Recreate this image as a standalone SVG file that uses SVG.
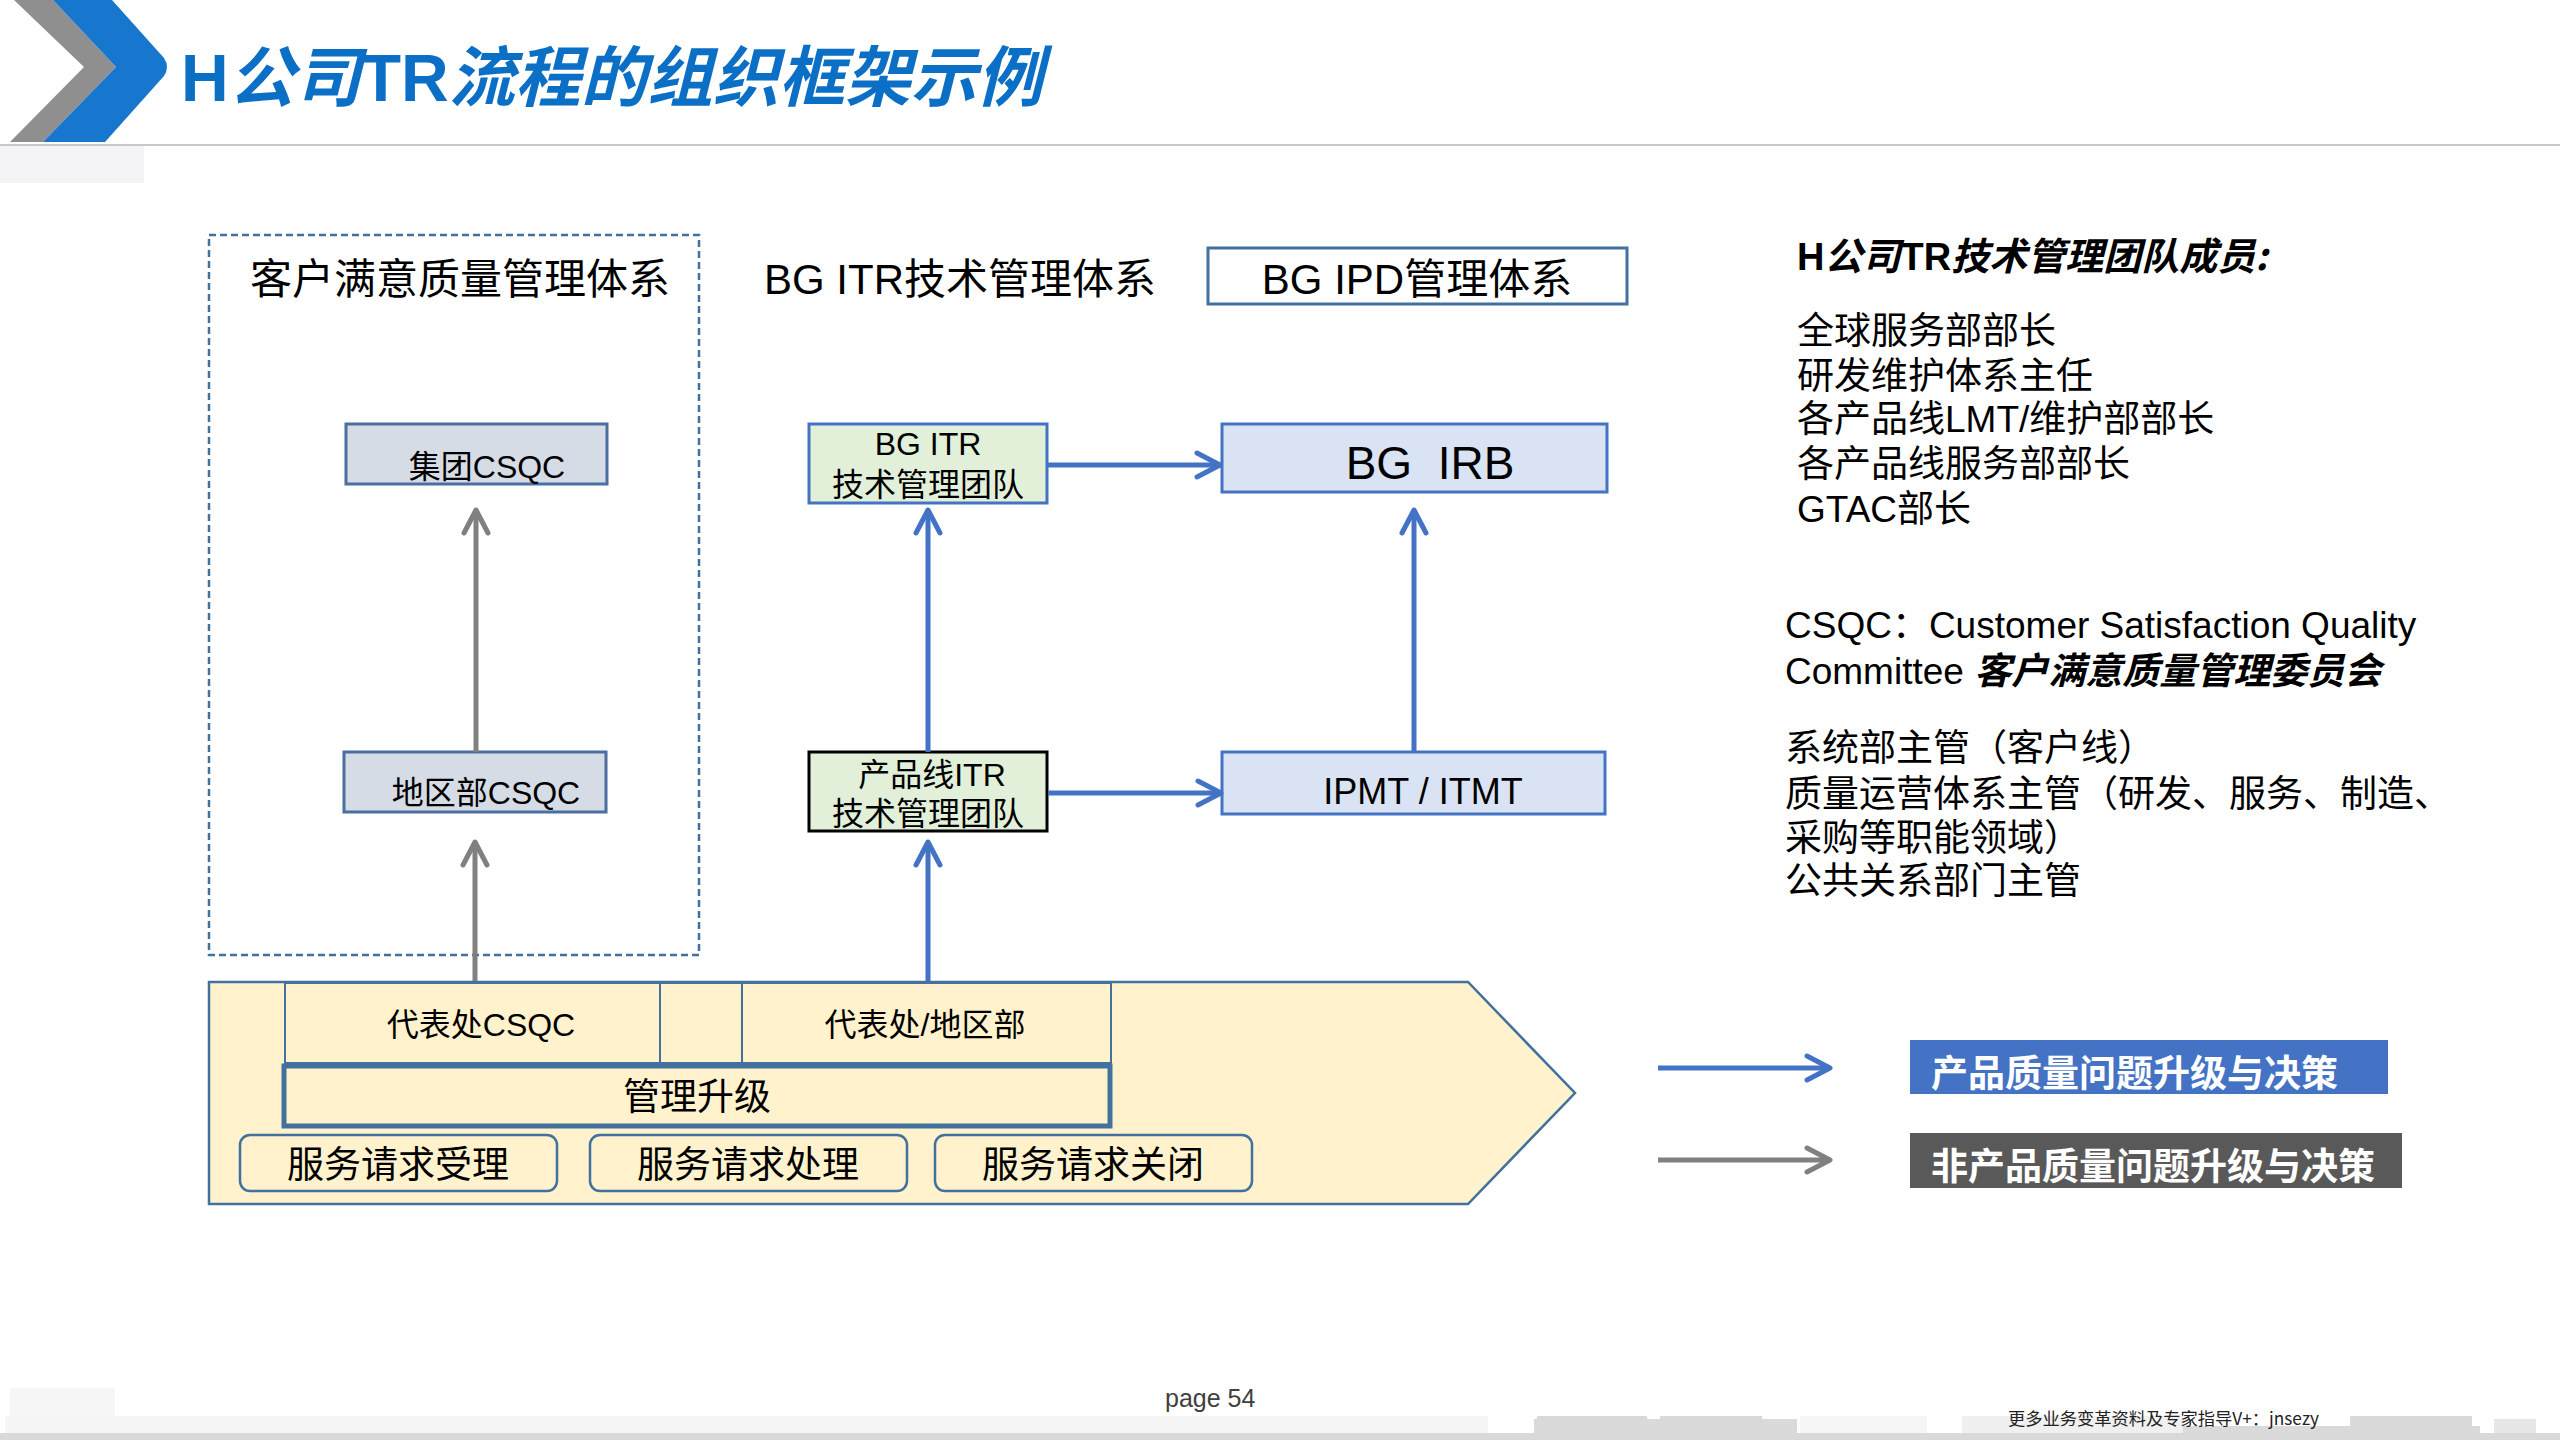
<svg xmlns="http://www.w3.org/2000/svg" width="2560" height="1440" viewBox="0 0 2560 1440">
<style>
text{font-family:"Liberation Sans","Noto Sans CJK SC",sans-serif;fill:#000}
.cj{font-family:"Noto Sans CJK SC","Liberation Sans",sans-serif}
.t42{font-size:42px}
.t32{font-size:32px}
.t37{font-size:37px}
.mid{text-anchor:middle}
.box{stroke-width:3}
.gray{fill:#D6DCE5;stroke:#4A6FA0}
.green{fill:#E2F0D9;stroke:#4472C4}
.lblue{fill:#DAE3F3;stroke:#4472C4}
.thin{fill:none;stroke:#41719C;stroke-width:2}
.rnd{fill:#FFF2CC;stroke:#41719C;stroke-width:2.5}
.ab{stroke:#4472C4;stroke-width:5;fill:none}
.ag{stroke:#808080;stroke-width:5;fill:none}
.it{font-style:italic}
</style>
<defs>
<marker id="hb" viewBox="0 0 30 30" refX="24" refY="15" markerWidth="30" markerHeight="30" markerUnits="userSpaceOnUse" orient="auto">
<path d="M3,3 L26,15 L3,27" fill="none" stroke="#4472C4" stroke-width="5" stroke-linecap="round" stroke-linejoin="round"/>
</marker>
<marker id="hg" viewBox="0 0 30 30" refX="24" refY="15" markerWidth="30" markerHeight="30" markerUnits="userSpaceOnUse" orient="auto">
<path d="M3,3 L26,15 L3,27" fill="none" stroke="#808080" stroke-width="5" stroke-linecap="round" stroke-linejoin="round"/>
</marker>
</defs>
<rect width="2560" height="1440" fill="#FFFFFF"/>

<g id="header">
<polygon points="14,0 53,0 116,67 43,142 10,142 84,67" fill="#8F8F8F"/>
<path d="M53,0 L112,0 L164,58 Q170,67 164,76 L105,142 L43,142 L116,67 Z" fill="#1777CE"/>
<rect x="0" y="146" width="144" height="37" fill="#F3F3F5"/>
<line x1="0" y1="145" x2="2560" y2="145" stroke="#C9C9C9" stroke-width="2"/>
<text x="181" y="101" style="font-size:66px;font-weight:bold;fill:#0B6FC6">H<tspan class="cj it" style="fill:#0B6FC6">公司</tspan>TR<tspan class="cj it" style="fill:#0B6FC6">流程的组织框架示例</tspan></text>
</g>

<g id="csq-system">
<rect x="209" y="235" width="490" height="720" fill="none" stroke="#41719C" stroke-width="2.5" stroke-dasharray="7 4"/>
<text class="t42" x="250" y="294">客户满意质量管理体系</text>
</g>
<text id="itr-system" class="t42" x="764" y="294">BG ITR技术管理体系</text>
<g id="ipd-system">
<rect x="1208" y="248" width="419" height="56" fill="#FFFFFF" stroke="#41719C" stroke-width="3"/>
<text class="t42 mid" x="1417" y="294">BG IPD管理体系</text>
</g>

<g id="group-csqc">
<rect class="box gray" x="346" y="424" width="261" height="60"/>
<text class="t32 mid" x="487" y="478">集团CSQC</text>
</g>
<g id="region-csqc">
<rect class="box gray" x="344" y="752" width="262" height="60"/>
<text class="t32 mid" x="486" y="804">地区部CSQC</text>
</g>
<g id="bg-itr-team">
<rect class="box green" x="809" y="424" width="238" height="79"/>
<text class="t32 mid" x="928" y="455">BG ITR</text>
<text class="t32 mid" x="928" y="496">技术管理团队</text>
</g>
<g id="pl-itr-team">
<rect class="box" x="809" y="752" width="238" height="79" fill="#E2F0D9" stroke="#000000"/>
<text class="t32 mid" x="932" y="786">产品线ITR</text>
<text class="t32 mid" x="928" y="825">技术管理团队</text>
</g>
<g id="bg-irb">
<rect class="box lblue" x="1222" y="424" width="385" height="68"/>
<text class="mid" x="1430" y="479" style="font-size:46px" xml:space="preserve">BG  IRB</text>
</g>
<g id="ipmt-itmt">
<rect class="box lblue" x="1222" y="752" width="383" height="62"/>
<text class="mid" x="1423" y="804" style="font-size:36px">IPMT / ITMT</text>
</g>

<g id="process">
<polygon points="209,982 1468,982 1575,1093 1468,1204 209,1204" fill="#FFF2CC" stroke="#41719C" stroke-width="2.5"/>
<rect class="thin" x="285" y="983" width="375" height="80"/>
<rect class="thin" x="660" y="983" width="82" height="80"/>
<rect class="thin" x="742" y="983" width="369" height="80"/>
<text class="t32 mid" x="481" y="1036">代表处CSQC</text>
<text class="t32 mid" x="925" y="1036">代表处/地区部</text>
<rect x="284" y="1066" width="826" height="60" fill="none" stroke="#41719C" stroke-width="5"/>
<text class="t37 mid" x="697" y="1110">管理升级</text>
<rect class="rnd" x="240" y="1135" width="317" height="56" rx="10"/>
<rect class="rnd" x="590" y="1135" width="317" height="56" rx="10"/>
<rect class="rnd" x="935" y="1135" width="317" height="56" rx="10"/>
<text class="t37 mid" x="398" y="1178">服务请求受理</text>
<text class="t37 mid" x="748" y="1178">服务请求处理</text>
<text class="t37 mid" x="1093" y="1178">服务请求关闭</text>
</g>

<g id="connectors">
<line class="ag" x1="476" y1="752" x2="476" y2="512" marker-end="url(#hg)"/>
<line class="ag" x1="475" y1="981" x2="475" y2="844" marker-end="url(#hg)"/>
<line class="ab" x1="928" y1="752" x2="928" y2="512" marker-end="url(#hb)"/>
<line class="ab" x1="928" y1="981" x2="928" y2="844" marker-end="url(#hb)"/>
<line class="ab" x1="1414" y1="752" x2="1414" y2="512" marker-end="url(#hb)"/>
<line class="ab" x1="1048" y1="465" x2="1218" y2="465" marker-end="url(#hb)"/>
<line class="ab" x1="1048" y1="793" x2="1219" y2="793" marker-end="url(#hb)"/>
</g>

<g id="members">
<text x="1797" y="270" style="font-size:38px;font-weight:bold">H<tspan class="cj it">公司</tspan>TR<tspan class="cj it">技术管理团队成员:</tspan></text>
<text class="t37" x="1797" y="344">全球服务部部长</text>
<text class="t37" x="1797" y="389">研发维护体系主任</text>
<text class="t37" x="1797" y="432">各产品线LMT/维护部部长</text>
<text class="t37" x="1797" y="477">各产品线服务部部长</text>
<text class="t37" x="1797" y="522">GTAC部长</text>
</g>
<g id="csqc-note">
<text class="t37" x="1785" y="638">CSQC：Customer Satisfaction Quality</text>
<text class="t37" x="1785" y="684">Committee <tspan class="cj it" style="font-weight:bold">客户满意质量管理委员会</tspan></text>
<text class="t37" x="1785" y="761">系统部主管（客户线）</text>
<text class="t37" x="1785" y="807">质量运营体系主管（研发、服务、制造、</text>
<text class="t37" x="1785" y="851">采购等职能领域）</text>
<text class="t37" x="1785" y="894">公共关系部门主管</text>
</g>

<g id="legend">
<line class="ab" x1="1658" y1="1068" x2="1828" y2="1068" marker-end="url(#hb)"/>
<line class="ag" x1="1658" y1="1160" x2="1828" y2="1160" marker-end="url(#hg)"/>
<rect x="1910" y="1040" width="478" height="54" fill="#4472C4"/>
<text class="t37" x="1931" y="1087" style="font-weight:bold;fill:#FFFFFF">产品质量问题升级与决策</text>
<rect x="1910" y="1133" width="492" height="55" fill="#595959"/>
<text class="t37" x="1931" y="1180" style="font-weight:bold;fill:#FFFFFF">非产品质量问题升级与决策</text>
</g>

<g id="footer">
<rect x="10" y="1388" width="105" height="45" fill="#F6F6F6"/>
<rect x="5" y="1416" width="1483" height="17" fill="#F5F5F5"/>
<rect x="1534" y="1419" width="263" height="14" fill="#DADADA"/>
<rect x="1537" y="1416" width="110" height="3" fill="#D9D9D9"/>
<rect x="1660" y="1416" width="102" height="11" fill="#D9D9D9"/>
<rect x="1800" y="1416" width="127" height="17" fill="#F6F6F6"/>
<rect x="1962" y="1416" width="221" height="17" fill="#F0F0F0"/>
<rect x="2183" y="1426" width="297" height="7" fill="#DADADA"/>
<rect x="2350" y="1416" width="122" height="10" fill="#DADADA"/>
<rect x="2494" y="1419" width="42" height="14" fill="#E6E6E6"/>
<rect x="0" y="1433" width="2560" height="7" fill="#D9D9D9"/>
<text x="1165" y="1407" style="font-size:25px;fill:#404040">page 54</text>
<text class="cj" x="2008" y="1425" style="font-size:17px;fill:#222" textLength="311" lengthAdjust="spacingAndGlyphs">更多业务变革资料及专家指导V+：jnsezy</text>
</g>
</svg>
